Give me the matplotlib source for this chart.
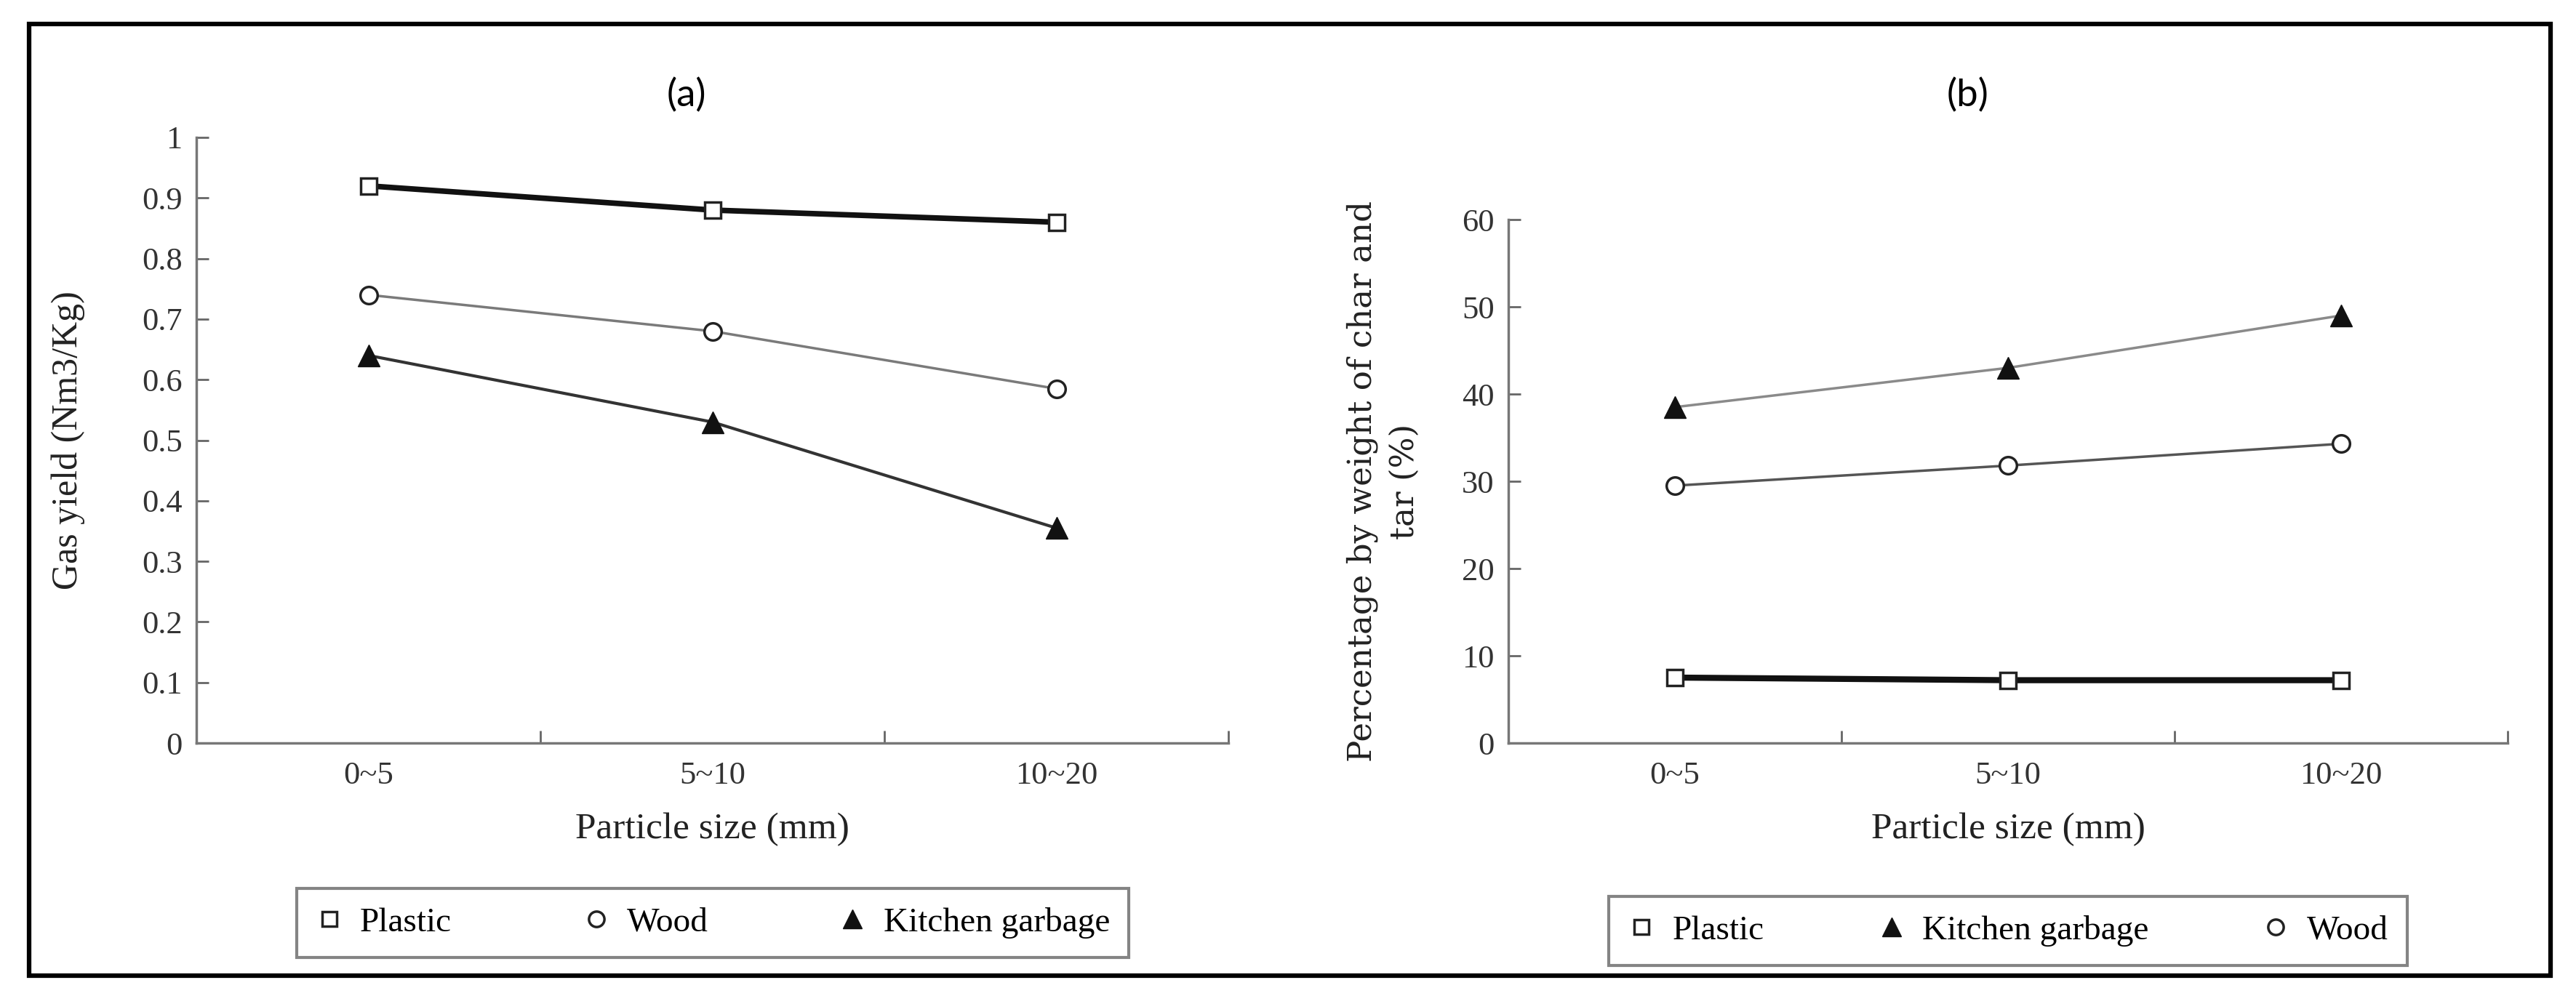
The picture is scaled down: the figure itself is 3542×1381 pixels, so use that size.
import numpy as np
import matplotlib
matplotlib.use("Agg")
import matplotlib.pyplot as plt
from matplotlib.lines import Line2D
from matplotlib.patches import Rectangle

# Data
sizes = ["0~5", "5~10", "10~20"]

gas_plastic = [0.92, 0.88, 0.86]
gas_wood = [0.74, 0.68, 0.585]
gas_kitchen = [0.64, 0.53, 0.355]

char_plastic = [7.5, 7.2, 7.2]
char_kitchen = [38.5, 43.0, 49.0]
char_wood = [29.5, 31.8, 34.3]

serif = "Liberation Serif"
W, H = 3542, 1381
fig = plt.figure(figsize=(W / 100, H / 100), dpi=100)

# outer black frame
fig.patches.append(Rectangle((40 / W, 1 - 1342 / H), (3507 - 40) / W, (1342 - 33) / H,
                             transform=fig.transFigure, fill=False, ec="black", lw=4.5))

ax_a = fig.add_axes([270 / W, 1 - 1022 / H, (1689 - 270) / W, (1022 - 189) / H])
ax_b = fig.add_axes([2074 / W, 1 - 1022 / H, (3448 - 2074) / W, (1022 - 302) / H])

x = np.arange(len(sizes))

sq = dict(marker="s", ms=16, mfc="white", mec="#222222", mew=2.5)
ci = dict(marker="o", ms=17, mfc="white", mec="#222222", mew=2.5)
tr = dict(marker="^", ms=21, mfc="#111111", mec="#111111", mew=1)

# (a) gas yield
ax_a.plot(x, gas_wood, color="#7a7a7a", lw=2.5, **ci, zorder=3)
ax_a.plot(x, gas_kitchen, color="#333333", lw=3, **tr, zorder=3)
ax_a.plot(x, gas_plastic, color="#111111", lw=5.5, **sq, zorder=4)
ax_a.set_ylim(0, 1)
ax_a.set_yticks(np.arange(0, 1.01, 0.1))
ax_a.set_yticklabels(["0"] + ["%.1f" % v for v in np.arange(0.1, 0.95, 0.1)] + ["1"])

# (b) char and tar
ax_b.plot(x, char_kitchen, color="#8a8a8a", lw=2.5, **tr, zorder=3)
ax_b.plot(x, char_wood, color="#555555", lw=2.5, **ci, zorder=3)
ax_b.plot(x, char_plastic, color="#111111", lw=6, **sq, zorder=4)
ax_b.set_ylim(0, 60)
ax_b.set_yticks(np.arange(0, 61, 10))

for ax in (ax_a, ax_b):
    ax.set_xlim(-0.5, 2.5)
    ax.set_xticks(x)
    ax.set_xticklabels(sizes)
    ax.set_xticks([0.5, 1.5, 2.5], minor=True)
    ax.tick_params(axis="x", which="major", length=0, pad=18)
    ax.tick_params(axis="x", which="minor", direction="in", length=12, width=2, color="#666666")
    ax.tick_params(axis="y", direction="in", length=12, width=2, color="#666666", pad=14)
    for s in ("top", "right"):
        ax.spines[s].set_visible(False)
    for s in ("left", "bottom"):
        ax.spines[s].set_color("#777777")
        ax.spines[s].set_linewidth(2.5)
    for lab in ax.get_xticklabels() + ax.get_yticklabels():
        lab.set_fontfamily(serif)
        lab.set_fontsize(32)
        lab.set_color("#333333")
    ax.set_xlabel("Particle size (mm)", fontfamily=serif, fontsize=37, color="#222222", labelpad=22)
    ax.patch.set_alpha(0)

ax_a.set_ylabel("Gas yield (Nm3/Kg)", fontfamily=serif, fontsize=36, color="#222222")
ax_a.yaxis.set_label_coords(-0.108, 0.5)
ax_b.set_ylabel("Percentage by weight of char and\ntar (%)", fontfamily="DejaVu Serif",
                fontsize=32.5, color="#222222", linespacing=1.45)
ax_b.yaxis.set_label_coords(-0.088, 0.5)

fig.text(944 / W, 1 - 131 / H, "(a)", fontfamily="Lato", fontsize=38, ha="center", va="center")
fig.text(2706 / W, 1 - 131 / H, "(b)", fontfamily="Lato", fontsize=38, ha="center", va="center")

def handle(style, label):
    return Line2D([], [], ls="none", label=label, **{**style, "ms": style["ms"] * 0.9})

leg_kw = dict(loc="center", ncol=3, frameon=True, fancybox=False, handlelength=0.8,
              handletextpad=0.5, borderpad=0.55, prop={"family": serif, "size": 34})

leg_a = fig.legend(handles=[handle(sq, "Plastic"), handle(ci, "Wood"), handle(tr, "Kitchen garbage")],
                   bbox_to_anchor=(980 / W, 1 - 1269 / H), columnspacing=3.8, **leg_kw)
leg_b = fig.legend(handles=[handle(sq, "Plastic"), handle(tr, "Kitchen garbage"), handle(ci, "Wood")],
                   bbox_to_anchor=(2761 / W, 1 - 1280 / H), columnspacing=3.3, **leg_kw)
for leg in (leg_a, leg_b):
    leg.get_frame().set_edgecolor("#666666")
    leg.get_frame().set_linewidth(3)

fig.savefig("out.png", dpi=100, facecolor="white")
